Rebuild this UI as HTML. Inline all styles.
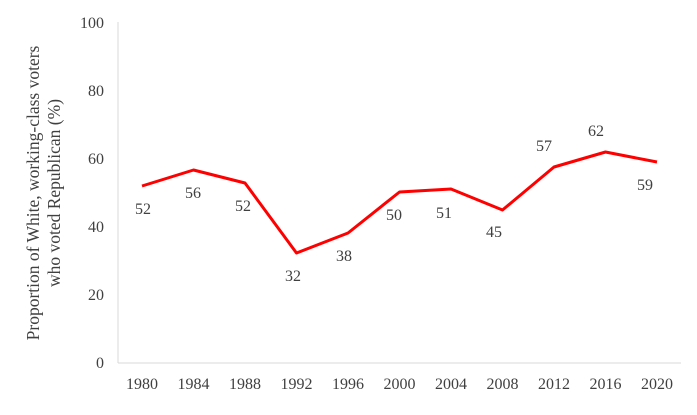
<!DOCTYPE html>
<html><head><style>body{margin:0;background:#fff}</style></head><body>
<svg width="697" height="410" xmlns="http://www.w3.org/2000/svg" font-family="Liberation Serif, serif" fill="#404040">
<line x1="118" y1="22" x2="118" y2="363" stroke="#d9d9d9" stroke-width="1"/>
<line x1="118" y1="363" x2="681" y2="363" stroke="#d9d9d9" stroke-width="1"/>
<g font-size="16" text-anchor="end">
<text x="104" y="368">0</text><text x="104" y="300">20</text><text x="104" y="232">40</text>
<text x="104" y="164">60</text><text x="104" y="96">80</text><text x="104" y="28">100</text></g>
<g font-size="16" text-anchor="middle">
<text x="142" y="389">1980</text><text x="193.5" y="389">1984</text><text x="245" y="389">1988</text>
<text x="296.5" y="389">1992</text><text x="348" y="389">1996</text><text x="399.5" y="389">2000</text>
<text x="451" y="389">2004</text><text x="502.5" y="389">2008</text><text x="554" y="389">2012</text>
<text x="605.5" y="389">2016</text><text x="657" y="389">2020</text></g>
<polyline fill="none" stroke="#ff0000" stroke-width="3" stroke-linejoin="round" points="142,186 193.5,170 245,183 296.5,253 348,233 399.5,192 451,189 502.5,210 554,167 605.5,152 657,162"/>
<g font-size="16" text-anchor="middle">
<text x="143" y="214">52</text><text x="193" y="198">56</text><text x="243" y="211">52</text>
<text x="293" y="281">32</text><text x="344" y="261">38</text><text x="394" y="220">50</text>
<text x="444" y="218">51</text><text x="494" y="237">45</text><text x="544" y="151">57</text>
<text x="596" y="136">62</text><text x="645" y="190">59</text></g>
<g font-size="17.5" text-anchor="middle" transform="translate(39,193) rotate(-90)">
<text x="0" y="0">Proportion of White, working-class voters</text>
<text x="0" y="21">who voted Republican (%)</text></g>
</svg>
</body></html>
